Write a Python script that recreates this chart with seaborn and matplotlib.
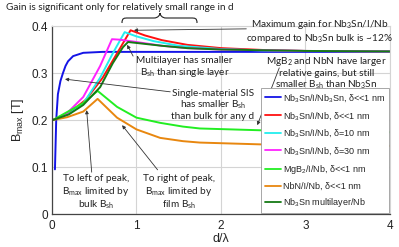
import numpy as np
import pandas as pd
import matplotlib
matplotlib.use("Agg")
import matplotlib.pyplot as plt
from matplotlib.path import Path
from matplotlib.patches import PathPatch
import seaborn as sns

# values (d/lambda, B_max in T)
d_nb3sn_bulk = [0.035, 0.05, 0.07, 0.1, 0.13, 0.16, 0.19, 0.25, 0.37, 0.6, 1.0, 2.0, 3.0, 4.0]
b_nb3sn_bulk = [0.095, 0.2, 0.255, 0.283, 0.300, 0.315, 0.325, 0.336, 0.343, 0.345, 0.345, 0.345, 0.345, 0.345]

d_sis_1 = [0.01, 0.2, 0.4, 0.6, 0.8, 0.93, 1.1, 1.3, 1.6, 2.0, 2.5, 3.0, 4.0]
b_sis_1 = [0.2, 0.215, 0.243, 0.29, 0.351, 0.391, 0.38, 0.37, 0.36, 0.353, 0.349, 0.347, 0.346]

d_sis_10 = [0.01, 0.2, 0.37, 0.57, 0.72, 0.86, 1.0, 1.2, 1.5, 2.0, 2.5, 3.0, 4.0]
b_sis_10 = [0.2, 0.213, 0.235, 0.29, 0.342, 0.387, 0.378, 0.368, 0.358, 0.351, 0.348, 0.347, 0.346]

d_sis_30 = [0.01, 0.18, 0.37, 0.57, 0.71, 0.8, 1.0, 1.3, 1.6, 2.0, 3.0, 4.0]
b_sis_30 = [0.2, 0.215, 0.249, 0.315, 0.372, 0.371, 0.366, 0.358, 0.353, 0.35, 0.347, 0.346]

d_mgb2 = [0.01, 0.18, 0.37, 0.54, 0.77, 1.0, 1.28, 1.55, 1.75, 2.5, 3.0, 4.0]
b_mgb2 = [0.2, 0.217, 0.236, 0.262, 0.228, 0.205, 0.194, 0.186, 0.182, 0.178, 0.176, 0.174]

d_nbn = [0.01, 0.18, 0.37, 0.54, 0.77, 1.0, 1.28, 1.55, 1.75, 2.5, 3.0, 4.0]
b_nbn = [0.2, 0.206, 0.218, 0.245, 0.205, 0.18, 0.162, 0.155, 0.152, 0.148, 0.146, 0.145]

d_multi = [0.01, 0.2, 0.37, 0.57, 0.72, 0.84, 0.9, 1.0, 1.3, 1.6, 2.0, 3.0, 4.0]
b_multi = [0.2, 0.212, 0.232, 0.27, 0.321, 0.355, 0.366, 0.364, 0.358, 0.353, 0.35, 0.347, 0.346]

labels = [
    "Nb$_3$Sn/I/Nb$_3$Sn, δ<<1 nm",
    "Nb$_3$Sn/I/Nb, δ<<1 nm",
    "Nb$_3$Sn/I/Nb, δ=10 nm",
    "Nb$_3$Sn/I/Nb, δ=30 nm",
    "MgB$_2$/I/Nb, δ<<1 nm",
    "NbN/I/Nb, δ<<1 nm",
    "Nb$_3$Sn multilayer/Nb",
]
colors = ["#1414e6", "#ff1010", "#22eeee", "#ff22ff", "#22ee22", "#e8870f", "#157a15"]

series = [
    (d_nb3sn_bulk, b_nb3sn_bulk), (d_sis_1, b_sis_1), (d_sis_10, b_sis_10),
    (d_sis_30, b_sis_30), (d_mgb2, b_mgb2), (d_nbn, b_nbn), (d_multi, b_multi),
]
frames = []
for lab, (d, b) in zip(labels, series):
    frames.append(pd.DataFrame({"d": d, "B": b, "series": lab}))
df = pd.concat(frames, ignore_index=True)

sns.set_style("whitegrid")
plt.rcParams["font.family"] = ["Liberation Sans", "DejaVu Sans"]
plt.rcParams["mathtext.default"] = "regular"

fig = plt.figure(figsize=(3.99, 2.47), dpi=100)
ax = fig.add_axes([0.1303, 0.1336, 0.847, 0.761])

sns.lineplot(data=df, x="d", y="B", hue="series", hue_order=labels,
             palette=dict(zip(labels, colors)), sort=False, estimator=None,
             linewidth=1.4, ax=ax)

ax.set_xlim(0, 4)
ax.set_ylim(0, 0.4)
ax.set_xticks([0, 1, 2, 3, 4])
ax.set_yticks([0, 0.1, 0.2, 0.3, 0.4])
ax.set_yticklabels(["0", "0.1", "0.2", "0.3", "0.4"])
ax.tick_params(length=0, labelsize=8.5, colors="#222222")
ax.tick_params(axis="x", pad=4)
ax.tick_params(axis="y", pad=3)
ax.grid(True, color="#d4d4d4", linewidth=0.8)
for side in ["top", "right"]:
    ax.spines[side].set_color("#d4d4d4")
for side in ["left", "bottom"]:
    ax.spines[side].set_color("#444444")
    ax.spines[side].set_linewidth(0.9)
ax.set_xlabel("d/λ", fontsize=9, labelpad=1)
ax.set_ylabel("B$_{max}$ [T]", fontsize=9, labelpad=4)

handles, labs = ax.get_legend_handles_labels()
leg = ax.legend(handles, labs, loc="lower right", bbox_to_anchor=(1.0, 0.0),
                borderaxespad=0.1, fontsize=6.5, frameon=True, fancybox=False,
                handlelength=1.8, handletextpad=0.25, labelspacing=0.64,
                borderpad=0.4)
leg.get_frame().set_edgecolor("#999999")
leg.get_frame().set_linewidth(0.6)
leg.get_frame().set_alpha(1)
for ln in leg.get_lines():
    ln.set_linewidth(1.3)

# annotations (Calibri-like font)
note = dict(family=["Lato", "DejaVu Sans"], fontsize=7.2, color="#222222",
            ha="center", va="center", linespacing=1.15)
arrow = dict(arrowstyle="-|>", color="#333333", lw=0.6, mutation_scale=5,
             shrinkA=0, shrinkB=0)

fig.text(0.301, 0.968, "Gain is significant only for relatively small range in d", **note)

# curly overbrace in figure pixels
W, H = 399.0, 247.0
x0, x1, xm, yb, yt = 122, 197, 160, 22, 13
pts = [(x0, yb + 1), (x0, yb - 4), (x0 + 2, yb - 4), (x0 + 6, yb - 4),
       (xm - 6, yb - 4), (xm - 2, yb - 4), (xm, yt + 2), (xm, yt),
       (xm, yt + 2), (xm + 2, yb - 4), (xm + 6, yb - 4),
       (x1 - 6, yb - 4), (x1 - 2, yb - 4), (x1, yb - 4), (x1, yb + 1)]
codes = [Path.MOVETO, Path.CURVE4, Path.CURVE4, Path.CURVE4,
         Path.LINETO, Path.CURVE4, Path.CURVE4, Path.CURVE4,
         Path.CURVE4, Path.CURVE4, Path.CURVE4,
         Path.LINETO, Path.CURVE4, Path.CURVE4, Path.CURVE4]
verts = [(px / W, 1 - py / H) for px, py in pts]
fig.add_artist(PathPatch(Path(verts, codes), transform=fig.transFigure,
                         fill=False, edgecolor="#222222", lw=0.8))

ax.text(3.17, 0.389, "Maximum gain for Nb$_3$Sn/I/Nb\ncompared to Nb$_3$Sn bulk is ~12%", **note)
ax.annotate("", xy=(0.97, 0.391), xytext=(2.30, 0.394), arrowprops=arrow)

ax.text(1.57, 0.312, "Multilayer has smaller\nB$_{sh}$ than single layer", **note)
ax.annotate("", xy=(0.89, 0.36), xytext=(0.96, 0.336), arrowprops=arrow)

ax.text(1.905, 0.232, "Single-material SIS\nhas smaller B$_{sh}$\nthan bulk for any d", **note)
ax.annotate("", xy=(0.154, 0.287), xytext=(1.40, 0.26), arrowprops=arrow)

ax.text(3.25, 0.30, "MgB$_2$ and NbN have larger\nrelative gains, but still\nsmaller B$_{sh}$ than Nb$_3$Sn", **note)
ax.annotate("", xy=(2.43, 0.189), xytext=(2.69, 0.311), arrowprops=arrow)

ax.text(0.52, 0.045, "To left of peak,\nB$_{max}$ limited by\nbulk B$_{sh}$", **note)
ax.annotate("", xy=(0.41, 0.221), xytext=(0.47, 0.089), arrowprops=arrow)

ax.text(1.50, 0.045, "To right of peak,\nB$_{max}$ limited by\nfilm B$_{sh}$", **note)
ax.annotate("", xy=(0.83, 0.189), xytext=(1.25, 0.094), arrowprops=arrow)

fig.savefig("out.png", dpi=100)
